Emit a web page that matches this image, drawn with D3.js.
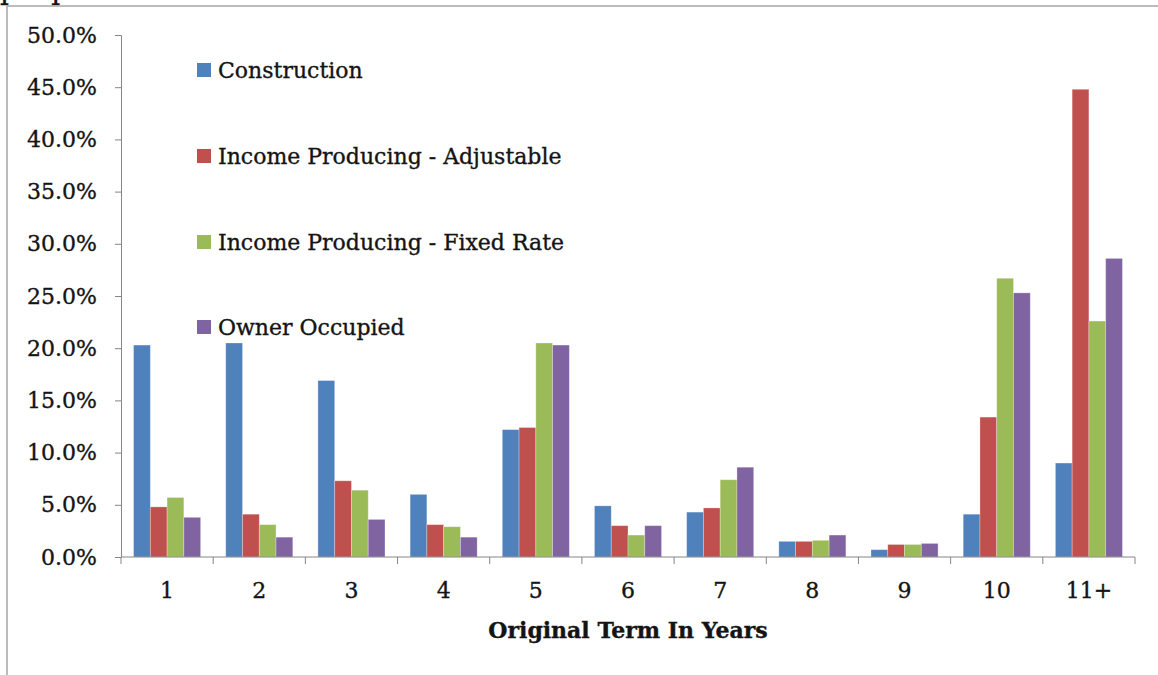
<!DOCTYPE html>
<html>
<head>
    <script src="https://d3js.org/d3.v7.min.js" charset="utf-8"></script>
    <style>
        body { margin: 0; background: #fff; }
        text { font-family: "DejaVu Serif", serif; fill: #141414; stroke: #141414; stroke-width: 0.35px; }
    </style>
</head>
<body>
<script>
    const terms = ["1", "2", "3", "4", "5", "6", "7", "8", "9", "10", "11+"];
    const seriesNames = ["Construction", "Income Producing - Adjustable", "Income Producing - Fixed Rate", "Owner Occupied"];
    const construction = [20.3, 20.5, 16.9, 6.0, 12.2, 4.9, 4.3, 1.5, 0.7, 4.1, 9.0];
    const adjustable   = [4.8, 4.1, 7.3, 3.1, 12.4, 3.0, 4.7, 1.5, 1.2, 13.4, 44.8];
    const fixedRate    = [5.7, 3.1, 6.4, 2.9, 20.5, 2.1, 7.4, 1.6, 1.2, 26.7, 22.6];
    const ownerOcc     = [3.8, 1.9, 3.6, 1.9, 20.3, 3.0, 8.6, 2.1, 1.3, 25.3, 28.6];
    const yTicks = [0, 5, 10, 15, 20, 25, 30, 35, 40, 45, 50];
    const colors = ["#4F81BD", "#C0504D", "#9BBB59", "#8064A2"];

    const allSeries = [construction, adjustable, fixedRate, ownerOcc];

    const W = 1158, H = 675;
    const svg = d3.select("body").append("svg").attr("width", W).attr("height", H);

    // frame from the surrounding document
    svg.append("text").attr("x", 0).attr("y", -1).style("font-size", "28px").text("people");
    svg.append("line").attr("x1", 7).attr("x2", 7).attr("y1", 6).attr("y2", H).attr("stroke", "#a6a6a6").attr("stroke-width", 1.5);
    svg.append("line").attr("x1", 7).attr("x2", W).attr("y1", 6).attr("y2", 6).attr("stroke", "#a6a6a6").attr("stroke-width", 1.5);

    const x = d3.scaleBand().domain(terms).range([121, 1135]).paddingInner(0).paddingOuter(0);
    const bw = x.bandwidth() / 5.5;
    const y = d3.scaleLinear().domain([0, 50]).range([557, 35]);

    // bars
    allSeries.forEach((vals, s) => {
        svg.append("g").selectAll("rect")
          .data(vals)
          .enter()
          .append("rect")
          .attr("x", (d, i) => x(terms[i]) + 0.75 * bw + s * bw)
          .attr("width", bw)
          .attr("y", d => y(d))
          .attr("height", d => y(0) - y(d))
          .style("fill", colors[s])
          .style("stroke", "rgba(255,255,255,0.35)")
          .style("stroke-width", 0.8);
    });

    // y axis
    const yAxis = svg.append("g").attr("transform", "translate(121,0)")
        .call(d3.axisLeft(y).tickValues(yTicks).tickSize(6).tickPadding(18).tickFormat(d => d.toFixed(1) + "%"));
    yAxis.select(".domain").attr("stroke", "#868686");
    yAxis.selectAll(".tick line").attr("stroke", "#868686");
    yAxis.selectAll("text").style("font-size", "22px").attr("font-family", null).attr("fill", null);

    // x axis: ticks at category boundaries
    const xAxisG = svg.append("g").attr("transform", "translate(0,557)");
    xAxisG.append("line").attr("x1", 121).attr("x2", 1135).attr("stroke", "#868686");
    xAxisG.selectAll("line.tk")
      .data(terms.concat(["end"]))
      .enter()
      .append("line")
      .attr("class", "tk")
      .attr("x1", (d, i) => i < terms.length ? x(d) : x(terms[terms.length - 1]) + x.bandwidth())
      .attr("x2", (d, i) => i < terms.length ? x(d) : x(terms[terms.length - 1]) + x.bandwidth())
      .attr("y1", 0).attr("y2", 7)
      .attr("stroke", "#868686");
    xAxisG.selectAll("text")
      .data(terms)
      .enter()
      .append("text")
      .attr("x", d => x(d) + x.bandwidth() / 2)
      .attr("y", 41)
      .attr("text-anchor", "middle")
      .style("font-size", "22px")
      .text(d => d);

    svg.append("text")
      .attr("x", 628).attr("y", 638)
      .attr("text-anchor", "middle")
      .style("font-size", "22px").style("font-weight", "bold")
      .text("Original Term In Years");

    // legend
    const legendY = [70, 156, 242, 327];
    const lg = svg.append("g").selectAll("g")
      .data(seriesNames)
      .enter()
      .append("g")
      .attr("transform", (d, i) => `translate(197,${legendY[i]})`);
    lg.append("rect").attr("x", 0).attr("y", -7).attr("width", 14).attr("height", 14).style("fill", (d, i) => colors[i]);
    lg.append("text").attr("x", 21).attr("y", 0).attr("dy", "0.36em").style("font-size", "22px").text(d => d);
</script>
</body>
</html>
